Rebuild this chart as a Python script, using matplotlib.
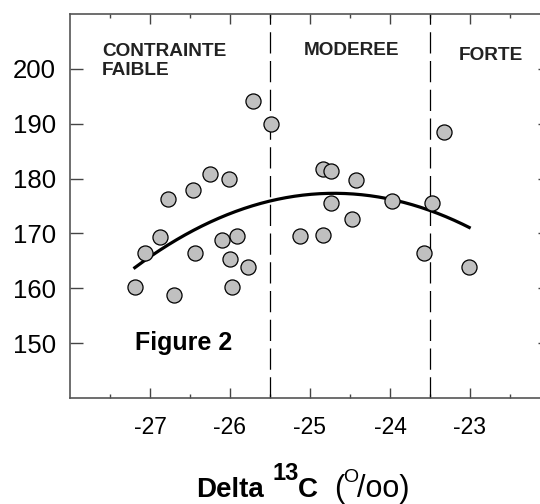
import numpy as np
import matplotlib
matplotlib.use('Agg')
import matplotlib.pyplot as plt

plt.rcParams['font.family'] = ['Liberation Sans', 'DejaVu Sans']
plt.rcParams['axes.unicode_minus'] = False

# points
delta13c = [-25.71, -25.49, -23.32, -26.25, -26.01, -24.84, -24.74, -24.42,
            -26.46, -26.78, -24.74, -23.97, -23.48, -24.47, -26.88, -25.91,
            -26.10, -25.13, -24.84, -27.06, -26.44, -26.00, -23.58, -25.77,
            -23.01, -27.19, -25.97, -26.70]
valeurs = [194.2, 189.9, 188.4, 180.8, 180.0, 181.8, 181.4, 179.8,
           178.0, 176.2, 175.5, 175.9, 175.5, 172.7, 169.3, 169.6,
           168.8, 169.6, 169.8, 166.4, 166.4, 165.3, 166.4, 163.9,
           163.9, 160.3, 160.3, 158.8]

# limites entre les classes de contrainte
seuils = [-25.5, -23.5]
zones = ['CONTRAINTE', 'FAIBLE', 'MODEREE', 'FORTE']

x_ticks = [-27, -26, -25, -24, -23]
y_ticks = [150, 160, 170, 180, 190, 200]

W, H = 540, 504


def px(x, y):
    # pixel position (from top-left) -> figure coords
    return x / W, 1 - y / H


fig = plt.figure(figsize=(5.4, 5.04), dpi=100)
ax = fig.add_axes([70 / W, 1 - 398 / H, 480 / W, 384 / H])

# courbe de tendance (polynome d'ordre 2)
coef = np.polyfit(delta13c, valeurs, 2)
xf = np.linspace(min(delta13c), max(delta13c), 200)
ax.plot(xf, np.polyval(coef, xf), color='black', lw=2.3, zorder=3)

ax.scatter(delta13c, valeurs, s=118, facecolor='#c0c0c0', edgecolor='black',
           linewidth=0.9, zorder=4)

for s in seuils:
    ax.axvline(s, color='black', lw=0.9, linestyle=(0, (17, 6)), zorder=2)

zkw = dict(fontsize=13.7, fontweight='bold', va='baseline', color='#222222')
ax.text(-27.60, 202.35, zones[0], ha='left', **zkw)
ax.text(-27.60, 198.8, zones[1], ha='left', **zkw)
ax.text(-24.475, 202.5, zones[2], ha='center', **zkw)
ax.text(-22.74, 201.6, zones[3], ha='center', **zkw)
ax.text(-27.19, 148.7, 'Figure 2', fontsize=18, fontweight='bold',
        va='baseline', ha='left')

ax.set_xlim(-28, -22)
ax.set_ylim(140, 210)
ax.set_xticks(x_ticks)
ax.set_xticks(np.arange(-27.5, -22.0, 1.0), minor=True)
ax.set_yticks(y_ticks)
ax.tick_params(axis='x', which='major', direction='in', length=7, width=1,
               color='#444444', top=True, labelsize=16.5, pad=13)
ax.tick_params(axis='x', which='minor', direction='in', length=3, width=1,
               color='#444444', top=True)
ax.tick_params(axis='y', which='major', direction='in', length=9, width=1,
               color='#444444', right=True, labelsize=18.5, pad=10)
for sp in ax.spines.values():
    sp.set_color('#555555')
    sp.set_linewidth(1.2)

# titre de l'axe x, en morceaux (exposants)
base = 497
fig.text(*px(196, base), 'Delta', fontsize=20, fontweight='bold', va='baseline')
fig.text(*px(273, 480), '13', fontsize=17, fontweight='bold', va='baseline')
fig.text(*px(298, base), 'C', fontsize=20, fontweight='bold', va='baseline')
fig.text(*px(334, base), '(', fontsize=22, va='baseline')
fig.text(*px(343, 482), 'O', fontsize=14, va='baseline')
fig.text(*px(357, base), '/oo)', fontsize=22, va='baseline')

fig.savefig('out.png', dpi=100)
